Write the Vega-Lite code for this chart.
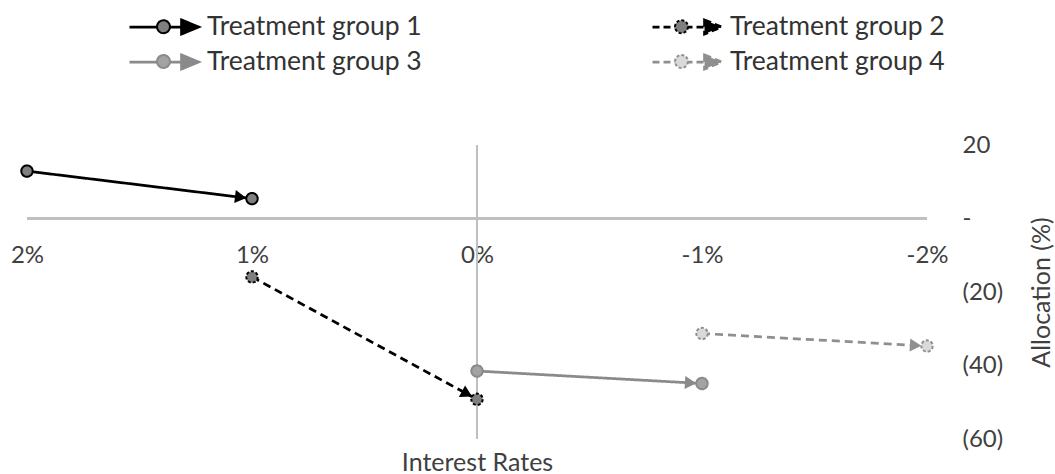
{
  "$schema": "https://vega.github.io/schema/vega-lite/v6.json",
  "width": 900,
  "height": 294,
  "autosize": {"type": "none"},
  "padding": {"left": 27, "top": 145, "right": 128, "bottom": 35},
  "background": "white",
  "config": {
    "view": {"stroke": null},
    "font": "Lato",
    "axis": {
      "labelFont": "Lato",
      "titleFont": "Lato",
      "labelColor": "#404040",
      "titleColor": "#404040",
      "labelFontSize": 24,
      "titleFontSize": 25,
      "titleFontWeight": "normal",
      "domain": false,
      "ticks": false,
      "tickSize": 0,
      "grid": false
    },
    "legend": {
      "labelFont": "Lato",
      "labelFontSize": 26.5,
      "labelColor": "#333333",
      "labelLimit": 400,
      "symbolOpacity": 1
    }
  },
  "data": {
    "values": [
      {"group": "Treatment group 1", "rate": 2, "alloc": 12.9},
      {"group": "Treatment group 1", "rate": 1, "alloc": 5.4},
      {"group": "Treatment group 2", "rate": 1, "alloc": -15.9},
      {"group": "Treatment group 2", "rate": 0, "alloc": -49.2},
      {"group": "Treatment group 3", "rate": 0, "alloc": -41.5},
      {"group": "Treatment group 3", "rate": -1, "alloc": -44.9},
      {"group": "Treatment group 4", "rate": -1, "alloc": -31.3},
      {"group": "Treatment group 4", "rate": -2, "alloc": -34.7}
    ]
  },
  "layer": [
    {
      "mark": {"type": "rule", "color": "#bfbfbf", "strokeWidth": 2},
      "encoding": {"y": {"datum": 0, "type": "quantitative"}}
    },
    {
      "mark": {"type": "rule", "color": "#bfbfbf", "strokeWidth": 2},
      "encoding": {"x": {"datum": 0, "type": "quantitative"}}
    },
    {
      "mark": {"type": "line", "strokeWidth": 2.75},
      "encoding": {
        "x": {
          "field": "rate",
          "type": "quantitative",
          "scale": {"domain": [-2, 2], "reverse": true, "nice": false},
          "axis": {
            "values": [2, 1, 0, -1, -2],
            "labelExpr": "datum.value + '%'",
            "offset": -221,
            "labelPadding": 37,
            "labelBaseline": "middle",
            "labelFlush": false,
            "title": "Interest Rates",
            "titleY": 244,
            "titleBaseline": "middle"
          }
        },
        "y": {
          "field": "alloc",
          "type": "quantitative",
          "scale": {"domain": [-60, 20], "nice": false},
          "axis": {
            "orient": "right",
            "values": [20, 0, -20, -40, -60],
            "labelExpr": "datum.value == 0 ? '-' : (datum.value < 0 ? '(' + abs(datum.value) + ')' : '' + datum.value)",
            "labelAlign": "left",
            "labelBaseline": "middle",
            "labelPadding": 35,
            "labelFlush": false,
            "title": "Allocation (%)",
            "titleAngle": 270,
            "titleX": 114,
            "titleY": 147,
            "titleAlign": "center",
            "titleBaseline": "middle"
          }
        },
        "stroke": {
          "field": "group",
          "type": "nominal",
          "scale": {"range": ["#000000", "#000000", "#8a8a8a", "#8f8f8f"]},
          "legend": {
            "title": null,
            "orient": "none",
            "direction": "horizontal",
            "legendX": 101,
            "legendY": -134.5,
            "columns": 2,
            "columnPadding": 225,
            "rowPadding": 5,
            "symbolType": "M-1,0L2.47,0M2.47,-0.47L3.6,0L2.47,0.47Z",
            "symbolSize": 900,
            "symbolStrokeWidth": 2.75,
            "labelOffset": 46,
            "encode": {
              "symbols": {
                "update": {
                  "opacity": {"value": 1},
                  "stroke": {"scale": "stroke", "field": "value"},
                  "fill": {"scale": "stroke", "field": "value"},
                  "strokeDash": {"signal": "indexof(['Treatment group 2', 'Treatment group 4'], datum.value) >= 0 ? [7, 4] : [1, 0]"}
                }
              }
            }
          }
        },
        "strokeDash": {
          "field": "group",
          "type": "nominal",
          "scale": {"range": [[1, 0], [8, 5], [1, 0], [8, 5]]},
          "legend": null
        }
      }
    },
    {
      "transform": [
        {
          "window": [
            {"op": "lag", "field": "rate", "as": "prevRate"},
            {"op": "lag", "field": "alloc", "as": "prevAlloc"}
          ],
          "groupby": ["group"],
          "sort": [{"field": "rate", "order": "descending"}]
        },
        {"filter": "isValid(datum.prevRate)"},
        {
          "calculate": "atan2(-(datum.alloc - datum.prevAlloc) * 294 / 80, -(datum.rate - datum.prevRate) * 900 / 4) * 180 / PI",
          "as": "heading"
        }
      ],
      "mark": {
        "type": "point",
        "filled": true,
        "opacity": 1,
        "shape": "M-1,0L-3,-1.15L-3,1.15Z",
        "size": 130
      },
      "encoding": {
        "x": {"field": "rate", "type": "quantitative"},
        "y": {"field": "alloc", "type": "quantitative"},
        "angle": {"field": "heading", "type": "quantitative", "scale": null},
        "fill": {
          "field": "group",
          "type": "nominal",
          "scale": {"range": ["#000000", "#000000", "#8a8a8a", "#8f8f8f"]},
          "legend": null
        }
      }
    },
    {
      "mark": {
        "type": "point",
        "filled": true,
        "opacity": 1,
        "shape": "circle",
        "size": 130,
        "strokeWidth": 2,
        "strokeDash": {"expr": "indexof(['Treatment group 2', 'Treatment group 4'], datum.group) >= 0 ? [3, 2] : [1, 0]"}
      },
      "encoding": {
        "x": {"field": "rate", "type": "quantitative"},
        "y": {"field": "alloc", "type": "quantitative"},
        "stroke": {"field": "group", "type": "nominal", "legend": null},
        "fill": {
          "field": "group",
          "type": "nominal",
          "scale": {"range": ["#7f7f7f", "#7f7f7f", "#a3a3a3", "#d9d9d9"]},
          "legend": {
            "title": null,
            "orient": "none",
            "direction": "horizontal",
            "legendX": 101,
            "legendY": -134.5,
            "columns": 2,
            "columnPadding": 225,
            "rowPadding": 5,
            "symbolType": "M1.73,0A0.43,0.43,0,1,1,0.87,0A0.43,0.43,0,1,1,1.73,0Z",
            "symbolSize": 900,
            "symbolStrokeWidth": 2,
            "labelOffset": 46,
            "labelOpacity": 0,
            "encode": {
              "symbols": {
                "update": {
                  "opacity": {"value": 1},
                  "stroke": {"scale": "stroke", "field": "value"},
                  "strokeDash": {"signal": "indexof(['Treatment group 2', 'Treatment group 4'], datum.value) >= 0 ? [3, 2] : [1, 0]"}
                }
              }
            }
          }
        }
      }
    }
  ],
  "resolve": {"scale": {"fill": "independent"}}
}
